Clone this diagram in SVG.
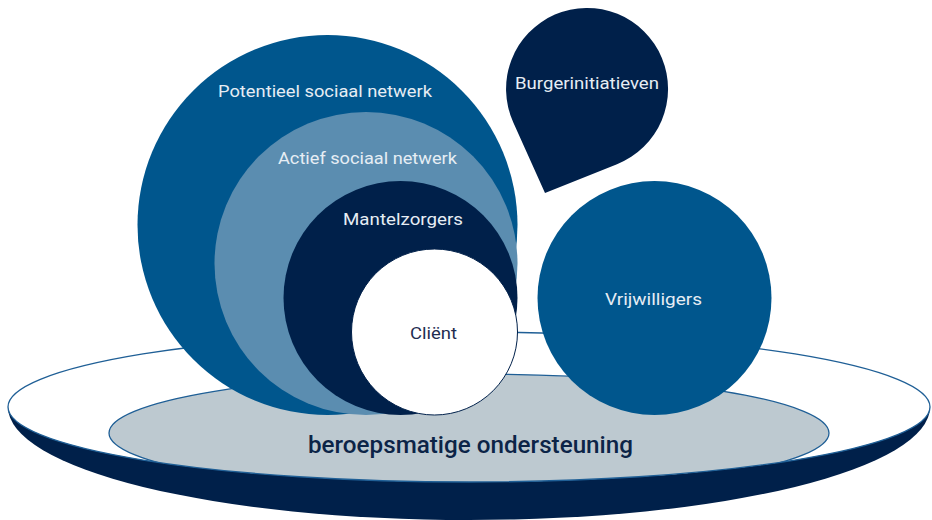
<svg xmlns="http://www.w3.org/2000/svg" width="932" height="520" viewBox="0 0 932 520">
  <style>
    .lbl { font-family: Roboto, "Liberation Sans", sans-serif; font-size: 17px; fill: #e6edf4; text-anchor: middle; }
    .dark { fill: #1e2d50; }
    .base { font-family: Roboto, "Liberation Sans", sans-serif; font-size: 23px; font-weight: 500; fill: #0c2447; text-anchor: middle; }
    .navy { fill: #00204a; }
    .blue { fill: #00568d; }
    .light { fill: #5b8db0; }
    .rim { fill: none; stroke: #1f5f96; stroke-width: 1.3; }
  </style>
  <defs>
    <clipPath id="plateClip">
      <ellipse cx="469" cy="407" rx="461" ry="75"/>
    </clipPath>
  </defs>

  <g id="plate">
    <path class="navy" d="M 8 407 A 461 113 0 0 0 930 407 Z"/>
    <ellipse cx="469" cy="407" rx="461" ry="75" fill="#ffffff"/>
    <g clip-path="url(#plateClip)">
      <ellipse cx="469" cy="433" rx="360" ry="59" fill="#bdc9d0" stroke="#1f5f96" stroke-width="1.3"/>
    </g>
    <ellipse class="rim" cx="469" cy="407" rx="461" ry="75"/>
  </g>

  <g id="connectors"/>

  <g id="potentieel">
    <circle class="blue" cx="327.5" cy="225" r="190"/>
    <text class="lbl" x="325" y="97" textLength="214" lengthAdjust="spacingAndGlyphs">Potentieel sociaal netwerk</text>
  </g>
  <g id="actief">
    <circle class="light" cx="366" cy="263.5" r="151.5"/>
    <text class="lbl" x="367.5" y="164" textLength="179" lengthAdjust="spacingAndGlyphs">Actief sociaal netwerk</text>
  </g>
  <g id="mantelzorgers">
    <circle class="navy" cx="400.5" cy="298" r="117"/>
    <text class="lbl" x="403" y="225" textLength="120" lengthAdjust="spacingAndGlyphs">Mantelzorgers</text>
  </g>
  <g id="client">
    <circle cx="434.5" cy="332" r="83" fill="#ffffff" stroke="#00204a" stroke-width="1"/>
    <text class="lbl dark" x="433.5" y="339" textLength="47" lengthAdjust="spacingAndGlyphs">Cliënt</text>
  </g>

  <g id="burgerinitiatieven">
    <path class="navy" d="M 545 193 L 513.2 122.2 A 81 81 0 1 1 617 164.2 Z"/>
    <text class="lbl" x="587" y="89" textLength="144" lengthAdjust="spacingAndGlyphs">Burgerinitiatieven</text>
  </g>

  <g id="vrijwilligers">
    <circle class="blue" cx="654.5" cy="298" r="117"/>
    <text class="lbl" x="653.5" y="305" textLength="97" lengthAdjust="spacingAndGlyphs">Vrijwilligers</text>
  </g>

  <g id="beroepsmatige">
    <text class="base" x="470.5" y="453" textLength="325" lengthAdjust="spacingAndGlyphs">beroepsmatige ondersteuning</text>
  </g>
</svg>
